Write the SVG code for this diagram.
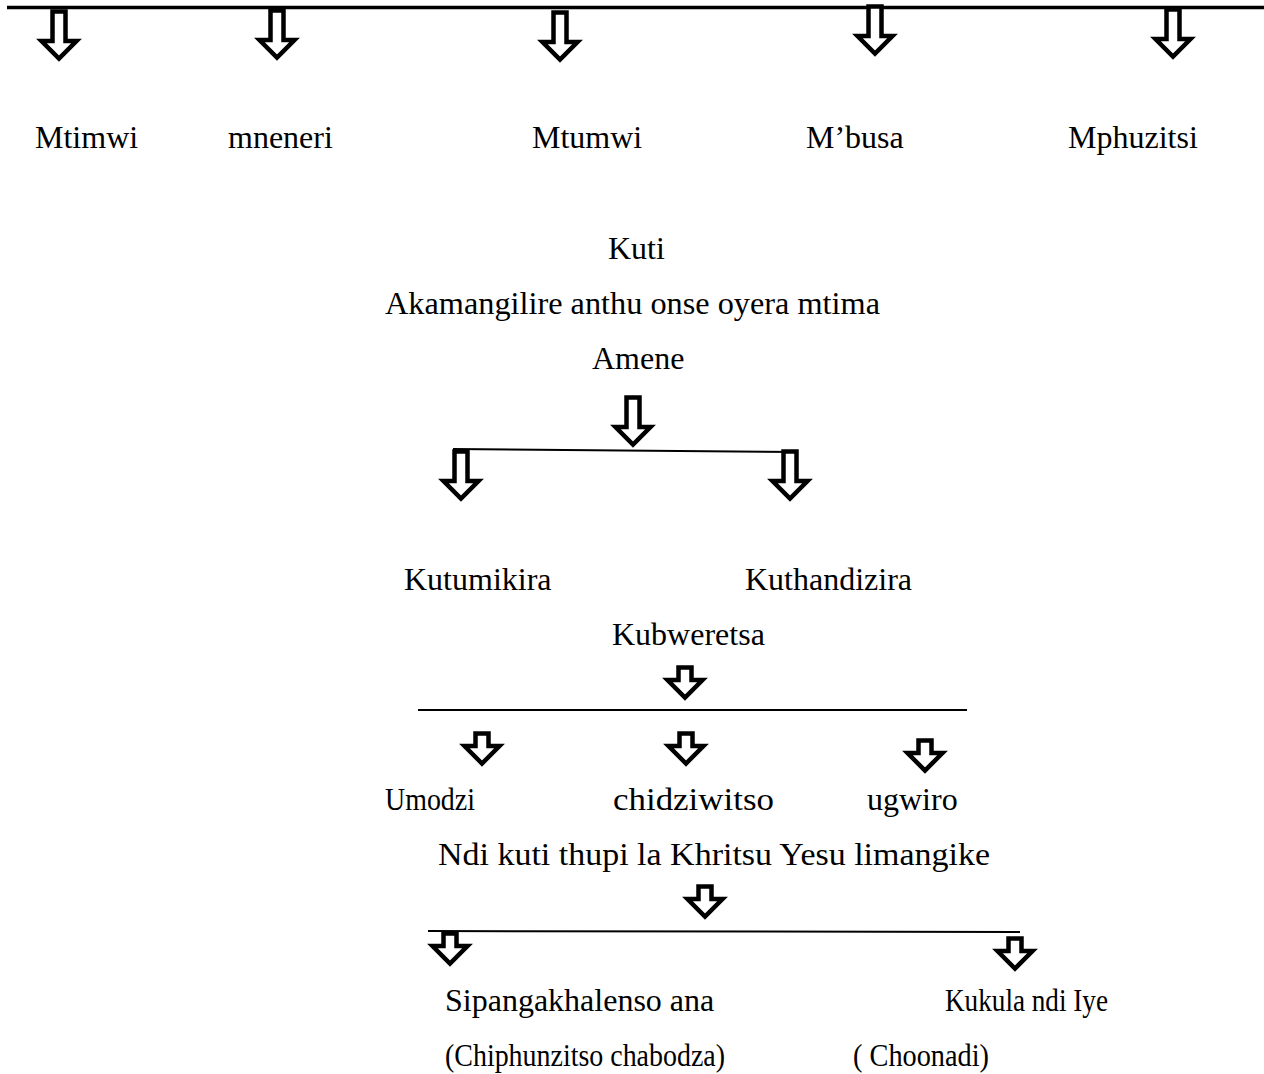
<svg xmlns="http://www.w3.org/2000/svg" width="1264" height="1074" viewBox="0 0 1264 1074">
<style>
text{font-family:"Liberation Serif","Times New Roman",serif;font-size:32px;fill:#000}
.ar{fill:#fff;stroke:#000;stroke-width:4.5;stroke-linejoin:miter;stroke-miterlimit:10}
.ln{stroke:#000;fill:none}
</style>
<defs>
<path id="arT" class="ar" d="M-6.5,2.5 H6.5 V32 H17.5 L0,49.5 L-17.5,32 H-6.5 Z"/>
<path id="arS" class="ar" d="M-6.5,2.5 H6.5 V15 H17.5 L0,32.5 L-17.5,15 H-6.5 Z"/>
</defs>
<rect width="1264" height="1074" fill="#fff"/>
<g id="connectors">
<line class="ln" x1="7" y1="7.5" x2="1264" y2="7.5" stroke-width="3.5"/>
<use href="#arT" x="59" y="9"/>
<use href="#arT" x="277" y="8"/>
<use href="#arT" x="560" y="10"/>
<use href="#arT" x="875" y="4"/>
<use href="#arT" x="1173" y="7"/>
<use href="#arT" x="633" y="395"/>
<line class="ln" x1="453" y1="449" x2="798" y2="452" stroke-width="2"/>
<use href="#arT" x="461" y="449"/>
<use href="#arT" x="790" y="449"/>
<use href="#arS" x="685" y="665"/>
<line class="ln" x1="418" y1="710" x2="967" y2="710" stroke-width="2"/>
<use href="#arS" x="482" y="731"/>
<use href="#arS" x="686" y="731"/>
<use href="#arS" x="925" y="738"/>
<use href="#arS" x="705" y="884"/>
<line class="ln" x1="428" y1="931" x2="1020" y2="932" stroke-width="2"/>
<use href="#arS" x="450" y="931"/>
<use href="#arS" x="1015" y="936"/>
</g>
<g id="n-mtimwi"><text x="35" y="148">Mtimwi</text></g>
<g id="n-mneneri"><text x="228" y="148">mneneri</text></g>
<g id="n-mtumwi"><text x="532" y="148">Mtumwi</text></g>
<g id="n-mbusa"><text x="806" y="148">M’busa</text></g>
<g id="n-mphuzitsi"><text x="1068" y="148">Mphuzitsi</text></g>
<g id="n-kuti"><text x="608" y="259">Kuti</text></g>
<g id="n-akamangilire"><text x="385" y="314" textLength="495" lengthAdjust="spacingAndGlyphs">Akamangilire anthu onse oyera mtima</text></g>
<g id="n-amene"><text x="592" y="369">Amene</text></g>
<g id="n-kutumikira"><text x="404" y="590">Kutumikira</text></g>
<g id="n-kuthandizira"><text x="745" y="590">Kuthandizira</text></g>
<g id="n-kubweretsa"><text x="612" y="645">Kubweretsa</text></g>
<g id="n-umodzi"><text x="385" y="810" textLength="90" lengthAdjust="spacingAndGlyphs">Umodzi</text></g>
<g id="n-chidziwitso"><text x="613" y="810" textLength="161" lengthAdjust="spacingAndGlyphs">chidziwitso</text></g>
<g id="n-ugwiro"><text x="867" y="810">ugwiro</text></g>
<g id="n-ndikuti"><text x="438" y="865" textLength="552" lengthAdjust="spacingAndGlyphs">Ndi kuti thupi la Khritsu Yesu limangike</text></g>
<g id="n-sipangakhalenso"><text x="445" y="1011">Sipangakhalenso ana</text></g>
<g id="n-kukula"><text x="945" y="1011" textLength="163" lengthAdjust="spacingAndGlyphs">Kukula ndi Iye</text></g>
<g id="n-chiphunzitso"><text x="445" y="1066" textLength="280" lengthAdjust="spacingAndGlyphs">(Chiphunzitso chabodza)</text></g>
<g id="n-choonadi"><text x="853" y="1066" textLength="136" lengthAdjust="spacingAndGlyphs">( Choonadi)</text></g>
</svg>
